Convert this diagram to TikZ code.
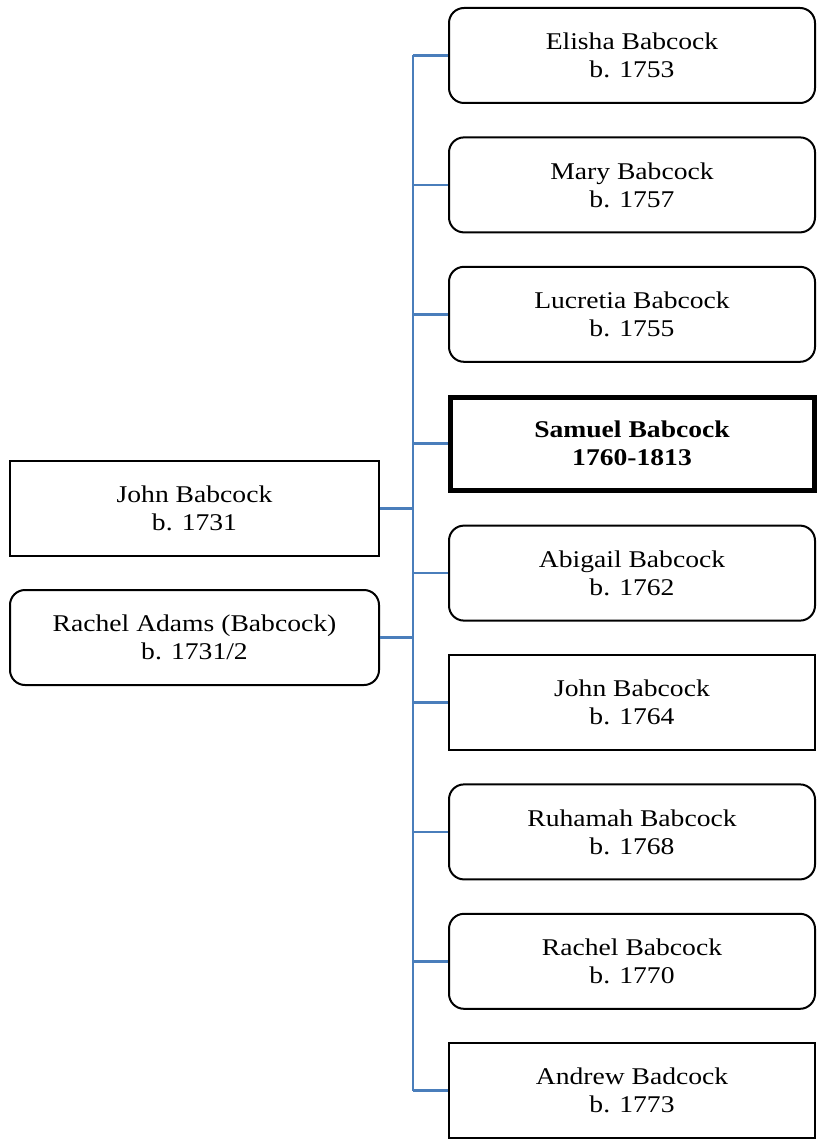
\documentclass[tikz,border=0pt]{standalone}
\usepackage{fontspec}
\setmainfont{Liberation Serif}[FakeStretch=1.15]
\definecolor{linkblue}{HTML}{4A7EBB}
\begin{document}
\begin{tikzpicture}[x=1pt,y=-1pt,
  person/.style={draw=black, line width=2pt, minimum width=366pt, minimum height=95pt,
    align=center, inner sep=0pt, font=\fontsize{24}{28}\selectfont},
  rbox/.style={person, rounded corners=15pt},
  sbox/.style={person},
  mainbox/.style={person, line width=5pt, minimum width=364pt, minimum height=93pt,
    font=\fontsize{24}{28}\selectfont\bfseries},
  lbox/.style={minimum width=369pt},
  link/.style={draw=linkblue, line width=2.5pt}]
\useasboundingbox (0,0) rectangle (817,1139);
% children
\node[rbox] (c1) at (632,55.5) {Elisha Babcock\\b. 1753};
\node[rbox] (c2) at (632,184.9) {Mary Babcock\\b. 1757};
\node[rbox] (c3) at (632,314.3) {Lucretia Babcock\\b. 1755};
\node[mainbox] (c4) at (632,443.7) {Samuel Babcock\\1760-1813};
\node[rbox] (c5) at (632,573.1) {Abigail Babcock\\b. 1762};
\node[sbox] (c6) at (632,702.5) {John Babcock\\b. 1764};
\node[rbox] (c7) at (632,831.9) {Ruhamah Babcock\\b. 1768};
\node[rbox] (c8) at (632,961.3) {Rachel Babcock\\b. 1770};
\node[sbox] (c9) at (632,1090.7) {Andrew Badcock\\b. 1773};
% parents
\node[sbox,lbox] (p1) at (194.5,508.5) {John Babcock\\b. 1731};
\node[rbox,lbox] (p2) at (194.5,637.5) {Rachel Adams (Babcock)\\b. 1731/2};
% trunk
\coordinate (ttop) at (413,0 |- c1.west);
\coordinate (tbot) at (413,0 |- c9.west);
\draw[link] (ttop) -- (tbot);
\foreach \c in {c1,c2,c3,c4,c5,c6,c7,c8,c9}
  \draw[link] (\c.west) -- (\c.west -| ttop);
\foreach \p in {p1,p2}
  \draw[link] (\p.east) -- (\p.east -| ttop);
\end{tikzpicture}
\end{document}
